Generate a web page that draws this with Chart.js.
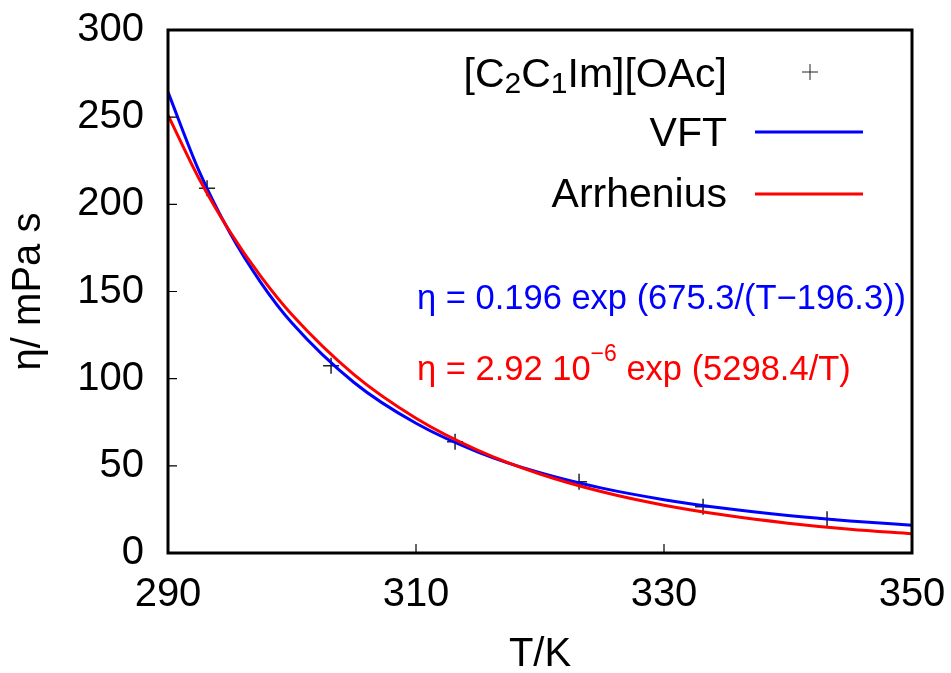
<!DOCTYPE html>
<html>
<head>
<meta charset="utf-8">
<script src="https://cdn.jsdelivr.net/npm/chart.js@4"></script>
<style>
  html, body { margin: 0; padding: 0; background: #fff; }
  #wrap { width: 951px; height: 673px; }
</style>
</head>
<body>
<div id="wrap"><canvas id="viscosity"></canvas></div>
<script>
const FONT = "'Liberation Sans', Arial, Helvetica, sans-serif";

// measured viscosity of [C2C1Im][OAc], mPa s
const tempMeasured = [293.15, 303.15, 313.15, 323.15, 333.15, 343.15];
const etaMeasured = [209.2, 107.4, 63.8, 40.9, 26.6, 19.3];

// fitted curves sampled along T
const tempFit = [290, 292.5, 295, 297.5, 300, 305, 310, 315, 320, 325, 330, 335, 340, 345, 350];
const etaVFT = [264.4, 219.2, 183.5, 155.0, 131.9, 97.8, 74.4, 57.9, 46.0, 37.2, 30.6, 25.5, 21.5, 18.4, 15.9];
const etaArrhenius = [251.2, 214.8, 184.3, 158.5, 136.6, 102.3, 77.3, 58.9, 45.3, 35.1, 27.4, 21.6, 17.1, 13.6, 11.0];

const xTicks = [290, 310, 330, 350];
const yTicks = [0, 50, 100, 150, 200, 250, 300];

const BLUE = '#0000ff';
const RED = '#ff0000';

const pairs = (xs, ys) => xs.map((x, i) => ({ x: x, y: ys[i] }));

// draw a row of text pieces (for sub/superscripts)
function drawRuns(ctx, runs, x, y, align) {
  let total = 0;
  runs.forEach(r => {
    ctx.font = r.size + 'px ' + FONT;
    r.w = ctx.measureText(r.text).width;
    total += r.w;
  });
  let cx = align === 'right' ? x - total : x;
  ctx.textAlign = 'left';
  ctx.textBaseline = 'alphabetic';
  runs.forEach(r => {
    ctx.font = r.size + 'px ' + FONT;
    ctx.fillText(r.text, cx, y + (r.dy || 0));
    cx += r.w;
  });
}

function drawCross(ctx, x, y, r) {
  ctx.beginPath();
  ctx.moveTo(x - r, y); ctx.lineTo(x + r, y);
  ctx.moveTo(x, y - r); ctx.lineTo(x, y + r);
  ctx.stroke();
}

const frameAndKey = {
  id: 'frameAndKey',
  afterDraw(chart) {
    const { ctx, chartArea: a, scales: { x, y } } = chart;
    ctx.save();

    // inward ticks, left and bottom only
    ctx.strokeStyle = '#000';
    ctx.lineWidth = 1.2;
    ctx.beginPath();
    yTicks.forEach(v => {
      const py = y.getPixelForValue(v);
      ctx.moveTo(a.left, py); ctx.lineTo(a.left + 9, py);
    });
    xTicks.forEach(v => {
      const px = x.getPixelForValue(v);
      ctx.moveTo(px, a.bottom); ctx.lineTo(px, a.bottom - 9);
    });
    ctx.stroke();

    ctx.lineWidth = 3;
    ctx.strokeRect(a.left, a.top, a.right - a.left, a.bottom - a.top);

    // key
    const kx = a.right - 185;
    ctx.fillStyle = '#000';
    drawRuns(ctx, [
      { text: '[C', size: 41 },
      { text: '2', size: 30, dy: 6 },
      { text: 'C', size: 41 },
      { text: '1', size: 30, dy: 6 },
      { text: 'Im][OAc]', size: 41 }
    ], kx, 87, 'right');
    drawRuns(ctx, [{ text: 'VFT', size: 41 }], kx, 146, 'right');
    drawRuns(ctx, [{ text: 'Arrhenius', size: 41 }], kx, 207, 'right');

    ctx.strokeStyle = '#222';
    ctx.lineWidth = 1;
    drawCross(ctx, a.right - 102, 72, 8);

    ctx.lineWidth = 3;
    ctx.strokeStyle = BLUE;
    ctx.beginPath(); ctx.moveTo(a.right - 157, 132); ctx.lineTo(a.right - 49, 132); ctx.stroke();
    ctx.strokeStyle = RED;
    ctx.beginPath(); ctx.moveTo(a.right - 157, 194); ctx.lineTo(a.right - 49, 194); ctx.stroke();

    // fit equations
    const ex = a.left + 249;
    ctx.fillStyle = BLUE;
    drawRuns(ctx, [{ text: 'η = 0.196 exp (675.3/(T\u2212196.3))', size: 34.5 }], ex, 309, 'left');
    ctx.fillStyle = RED;
    drawRuns(ctx, [
      { text: 'η = 2.92 10', size: 34.5 },
      { text: '\u22126', size: 23, dy: -19 },
      { text: ' exp (5298.4/T)', size: 34.5 }
    ], ex, 380, 'left');

    ctx.restore();
  }
};

new Chart(document.getElementById('viscosity'), {
  type: 'scatter',
  data: {
    datasets: [
      {
        label: '[C2C1Im][OAc]',
        data: pairs(tempMeasured, etaMeasured),
        pointStyle: 'cross',
        pointRadius: 8,
        pointBorderWidth: 1.5,
        borderColor: '#222',
        backgroundColor: '#222',
        order: 3
      },
      {
        label: 'VFT',
        data: pairs(tempFit, etaVFT),
        showLine: true,
        cubicInterpolationMode: 'monotone',
        pointRadius: 0,
        borderColor: BLUE,
        borderWidth: 3,
        order: 2
      },
      {
        label: 'Arrhenius',
        data: pairs(tempFit, etaArrhenius),
        showLine: true,
        cubicInterpolationMode: 'monotone',
        pointRadius: 0,
        borderColor: RED,
        borderWidth: 3,
        order: 1
      }
    ]
  },
  options: {
    responsive: true,
    maintainAspectRatio: false,
    animation: false,
    layout: { padding: { top: 30, right: 39, left: 0, bottom: 0 } },
    plugins: {
      legend: { display: false },
      tooltip: { enabled: false }
    },
    scales: {
      x: {
        type: 'linear',
        min: 290,
        max: 350,
        afterFit: s => { s.height = 120; s.paddingLeft = 0; s.paddingRight = 0; },
        afterBuildTicks: s => { s.ticks = xTicks.map(v => ({ value: v })); },
        grid: { display: false, drawTicks: false },
        border: { display: false },
        ticks: { color: '#000', padding: 18, font: { family: FONT, size: 40 } },
        title: {
          display: true,
          text: 'T/K',
          color: '#000',
          font: { family: FONT, size: 40, lineHeight: 1.2 },
          padding: { top: 0, bottom: -6 }
        }
      },
      y: {
        min: 0,
        max: 300,
        afterFit: s => { s.width = 168; s.paddingTop = 0; s.paddingBottom = 0; },
        afterBuildTicks: s => { s.ticks = yTicks.map(v => ({ value: v })); },
        grid: { display: false, drawTicks: false },
        border: { display: false },
        ticks: { color: '#000', padding: 24, font: { family: FONT, size: 40 } },
        title: {
          display: true,
          text: 'η/ mPa s',
          color: '#000',
          font: { family: FONT, size: 40, lineHeight: 1.2 },
          padding: { top: 5, bottom: 0 }
        }
      }
    }
  },
  plugins: [frameAndKey]
});
</script>
</body>
</html>
